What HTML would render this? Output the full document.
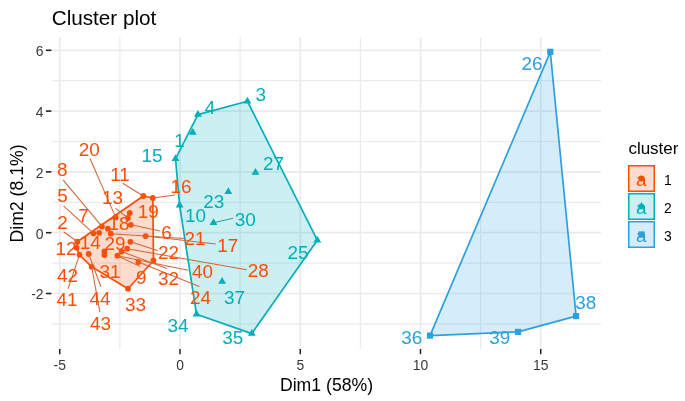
<!DOCTYPE html>
<html><head><meta charset="utf-8"><title>Cluster plot</title>
<style>
html,body{margin:0;padding:0;background:#fff;}
body{width:685px;height:401px;overflow:hidden;}
svg{display:block;filter:blur(0.35px);}
text{font-family:"Liberation Sans",sans-serif;}
</style></head>
<body>
<svg width="685" height="401" viewBox="0 0 685 401">
<rect width="685" height="401" fill="#fff"/>
<line x1="119.88" y1="37.6" x2="119.88" y2="349.0" stroke="#EBEBEB" stroke-width="1.2"/>
<line x1="240.12" y1="37.6" x2="240.12" y2="349.0" stroke="#EBEBEB" stroke-width="1.2"/>
<line x1="360.38" y1="37.6" x2="360.38" y2="349.0" stroke="#EBEBEB" stroke-width="1.2"/>
<line x1="480.62" y1="37.6" x2="480.62" y2="349.0" stroke="#EBEBEB" stroke-width="1.2"/>
<line x1="52.0" y1="323.90" x2="601.0" y2="323.90" stroke="#EBEBEB" stroke-width="1.2"/>
<line x1="52.0" y1="263.10" x2="601.0" y2="263.10" stroke="#EBEBEB" stroke-width="1.2"/>
<line x1="52.0" y1="202.30" x2="601.0" y2="202.30" stroke="#EBEBEB" stroke-width="1.2"/>
<line x1="52.0" y1="141.50" x2="601.0" y2="141.50" stroke="#EBEBEB" stroke-width="1.2"/>
<line x1="52.0" y1="80.70" x2="601.0" y2="80.70" stroke="#EBEBEB" stroke-width="1.2"/>
<line x1="59.75" y1="37.6" x2="59.75" y2="349.0" stroke="#EBEBEB" stroke-width="1.7"/>
<line x1="180.00" y1="37.6" x2="180.00" y2="349.0" stroke="#EBEBEB" stroke-width="1.7"/>
<line x1="300.25" y1="37.6" x2="300.25" y2="349.0" stroke="#EBEBEB" stroke-width="1.7"/>
<line x1="420.50" y1="37.6" x2="420.50" y2="349.0" stroke="#EBEBEB" stroke-width="1.7"/>
<line x1="540.75" y1="37.6" x2="540.75" y2="349.0" stroke="#EBEBEB" stroke-width="1.7"/>
<line x1="52.0" y1="293.50" x2="601.0" y2="293.50" stroke="#EBEBEB" stroke-width="1.7"/>
<line x1="52.0" y1="232.70" x2="601.0" y2="232.70" stroke="#EBEBEB" stroke-width="1.7"/>
<line x1="52.0" y1="171.90" x2="601.0" y2="171.90" stroke="#EBEBEB" stroke-width="1.7"/>
<line x1="52.0" y1="111.10" x2="601.0" y2="111.10" stroke="#EBEBEB" stroke-width="1.7"/>
<line x1="52.0" y1="50.30" x2="601.0" y2="50.30" stroke="#EBEBEB" stroke-width="1.7"/>
<circle cx="143.3" cy="196.0" r="2.9" fill="#FC4E07"/>
<circle cx="152.8" cy="198.0" r="2.9" fill="#FC4E07"/>
<circle cx="115.7" cy="217.4" r="2.9" fill="#FC4E07"/>
<circle cx="129.7" cy="213.0" r="2.9" fill="#FC4E07"/>
<circle cx="128.0" cy="218.0" r="2.9" fill="#FC4E07"/>
<circle cx="130.9" cy="224.8" r="2.9" fill="#FC4E07"/>
<circle cx="101.9" cy="226.4" r="2.9" fill="#FC4E07"/>
<circle cx="107.9" cy="228.7" r="2.9" fill="#FC4E07"/>
<circle cx="110.8" cy="233.7" r="2.9" fill="#FC4E07"/>
<circle cx="93.4" cy="233.3" r="2.9" fill="#FC4E07"/>
<circle cx="99.1" cy="232.8" r="2.9" fill="#FC4E07"/>
<circle cx="77.3" cy="241.7" r="2.9" fill="#FC4E07"/>
<circle cx="76.6" cy="247.8" r="2.9" fill="#FC4E07"/>
<circle cx="79.5" cy="254.8" r="2.9" fill="#FC4E07"/>
<circle cx="88.7" cy="254.0" r="2.9" fill="#FC4E07"/>
<circle cx="104.4" cy="251.4" r="2.9" fill="#FC4E07"/>
<circle cx="104.4" cy="255.0" r="2.9" fill="#FC4E07"/>
<circle cx="145.6" cy="236.1" r="2.9" fill="#FC4E07"/>
<circle cx="130.4" cy="241.8" r="2.9" fill="#FC4E07"/>
<circle cx="127.1" cy="248.7" r="2.9" fill="#FC4E07"/>
<circle cx="121.6" cy="251.6" r="2.9" fill="#FC4E07"/>
<circle cx="117.4" cy="255.7" r="2.9" fill="#FC4E07"/>
<circle cx="138.3" cy="262.0" r="2.9" fill="#FC4E07"/>
<circle cx="153.5" cy="260.5" r="2.9" fill="#FC4E07"/>
<circle cx="128.0" cy="288.7" r="2.9" fill="#FC4E07"/>
<circle cx="91.7" cy="266.8" r="2.9" fill="#FC4E07"/>
<polygon points="247.40,96.69 251.31,103.46 243.49,103.46" fill="#00AFBB"/>
<polygon points="197.90,110.09 201.81,116.86 193.99,116.86" fill="#00AFBB"/>
<polygon points="192.80,127.89 196.71,134.66 188.89,134.66" fill="#00AFBB"/>
<polygon points="175.50,154.29 179.41,161.06 171.59,161.06" fill="#00AFBB"/>
<polygon points="255.50,168.09 259.41,174.86 251.59,174.86" fill="#00AFBB"/>
<polygon points="228.30,187.29 232.21,194.06 224.39,194.06" fill="#00AFBB"/>
<polygon points="179.60,200.79 183.51,207.56 175.69,207.56" fill="#00AFBB"/>
<polygon points="213.50,218.29 217.41,225.06 209.59,225.06" fill="#00AFBB"/>
<polygon points="222.10,276.89 226.01,283.66 218.19,283.66" fill="#00AFBB"/>
<polygon points="196.50,309.69 200.41,316.46 192.59,316.46" fill="#00AFBB"/>
<polygon points="251.80,329.09 255.71,335.86 247.89,335.86" fill="#00AFBB"/>
<polygon points="317.30,235.69 321.21,242.46 313.39,242.46" fill="#00AFBB"/>
<rect x="547.20" y="48.70" width="6.20" height="6.20" fill="#2E9FDF"/>
<rect x="426.90" y="332.50" width="6.20" height="6.20" fill="#2E9FDF"/>
<rect x="514.90" y="328.80" width="6.20" height="6.20" fill="#2E9FDF"/>
<rect x="573.00" y="313.00" width="6.20" height="6.20" fill="#2E9FDF"/>
<polygon points="143.3,196.0 152.8,198.0 153.5,260.5 128.0,288.7 91.7,266.8 79.5,254.8 76.6,247.8 77.3,241.7" fill="#FC4E07" fill-opacity="0.2" stroke="#FC4E07" stroke-width="1.7" stroke-linejoin="round"/>
<polygon points="175.5,158.8 197.9,114.6 247.4,101.2 317.3,240.2 251.8,333.6 196.5,314.2 179.6,205.3" fill="#00AFBB" fill-opacity="0.2" stroke="#00AFBB" stroke-width="1.7" stroke-linejoin="round"/>
<polygon points="430.0,335.6 550.3,51.8 576.1,316.1 518.0,331.9" fill="#2E9FDF" fill-opacity="0.2" stroke="#2E9FDF" stroke-width="1.7" stroke-linejoin="round"/>
<line x1="115.7" y1="217.4" x2="90.0" y2="158.5" stroke="#D0663A" stroke-width="1.05"/>
<line x1="128.0" y1="218.0" x2="115.5" y2="208.3" stroke="#D0663A" stroke-width="1.05"/>
<line x1="101.9" y1="226.4" x2="63.0" y2="179.8" stroke="#D0663A" stroke-width="1.05"/>
<line x1="93.4" y1="233.3" x2="63.6" y2="205.8" stroke="#D0663A" stroke-width="1.05"/>
<line x1="77.3" y1="241.7" x2="63.6" y2="231.8" stroke="#D0663A" stroke-width="1.05"/>
<line x1="143.3" y1="196.0" x2="122.7" y2="183.3" stroke="#D0663A" stroke-width="1.05"/>
<line x1="152.8" y1="198.0" x2="175.0" y2="194.9" stroke="#D0663A" stroke-width="1.05"/>
<line x1="130.9" y1="224.8" x2="160.3" y2="231.1" stroke="#D0663A" stroke-width="1.05"/>
<line x1="110.8" y1="233.7" x2="184.5" y2="238.6" stroke="#D0663A" stroke-width="1.05"/>
<line x1="145.6" y1="236.1" x2="215.8" y2="244.0" stroke="#D0663A" stroke-width="1.05"/>
<line x1="130.4" y1="241.8" x2="157.5" y2="250.6" stroke="#D0663A" stroke-width="1.05"/>
<line x1="127.1" y1="248.7" x2="246.7" y2="269.8" stroke="#D0663A" stroke-width="1.05"/>
<line x1="117.4" y1="255.7" x2="188.2" y2="270.2" stroke="#D0663A" stroke-width="1.05"/>
<line x1="121.6" y1="251.6" x2="166.8" y2="268.5" stroke="#D0663A" stroke-width="1.05"/>
<line x1="138.3" y1="262.0" x2="199.3" y2="286.5" stroke="#D0663A" stroke-width="1.05"/>
<line x1="117.4" y1="255.7" x2="140.4" y2="266.6" stroke="#D0663A" stroke-width="1.05"/>
<line x1="79.5" y1="254.8" x2="68.0" y2="288.8" stroke="#D0663A" stroke-width="1.05"/>
<line x1="88.7" y1="254.0" x2="100.9" y2="286.8" stroke="#D0663A" stroke-width="1.05"/>
<line x1="91.7" y1="266.8" x2="99.9" y2="312.2" stroke="#D0663A" stroke-width="1.05"/>
<line x1="213.5" y1="222.8" x2="232.9" y2="218.3" stroke="#2AA3AC" stroke-width="1.05"/>
<g fill="#FC4E07" font-size="18.9" text-anchor="middle">
<text x="89.2" y="155.90">20</text>
<text x="62.3" y="176.40">8</text>
<text x="120.0" y="181.00">11</text>
<text x="62.4" y="202.30">5</text>
<text x="112.5" y="204.30">13</text>
<text x="181.0" y="193.00">16</text>
<text x="148.3" y="217.50">19</text>
<text x="83.6" y="222.30">7</text>
<text x="62.4" y="228.90">2</text>
<text x="119.0" y="230.30">18</text>
<text x="166.5" y="238.60">6</text>
<text x="195.0" y="245.10">21</text>
<text x="227.8" y="252.00">17</text>
<text x="90.2" y="248.60">14</text>
<text x="65.9" y="254.70">12</text>
<text x="114.9" y="249.60">29</text>
<text x="168.5" y="259.10">22</text>
<text x="202.5" y="277.80">40</text>
<text x="258.3" y="276.90">28</text>
<text x="110.1" y="278.10">31</text>
<text x="141.2" y="283.60">9</text>
<text x="168.5" y="285.30">32</text>
<text x="200.5" y="303.60">24</text>
<text x="135.5" y="310.70">33</text>
<text x="67.4" y="281.50">42</text>
<text x="66.9" y="306.10">41</text>
<text x="100.0" y="305.10">44</text>
<text x="100.5" y="330.30">43</text>
</g>
<g fill="#00AFBB" font-size="18.9" text-anchor="middle">
<text x="260.8" y="100.50">3</text>
<text x="210.1" y="113.80">4</text>
<text x="179.5" y="147.20">1</text>
<text x="152.0" y="162.30">15</text>
<text x="273.6" y="169.80">27</text>
<text x="213.7" y="208.00">23</text>
<text x="195.6" y="222.00">10</text>
<text x="245.3" y="225.50">30</text>
<text x="298.0" y="258.60">25</text>
<text x="234.5" y="303.60">37</text>
<text x="178.0" y="332.30">34</text>
<text x="232.8" y="343.60">35</text>
</g>
<g fill="#2E9FDF" font-size="18.9" text-anchor="middle">
<text x="532.0" y="70.20">26</text>
<text x="411.8" y="344.00">36</text>
<text x="499.8" y="344.30">39</text>
<text x="585.8" y="308.90">38</text>
</g>
<line x1="59.75" y1="349.0" x2="59.75" y2="354.2" stroke="#222" stroke-width="1.5"/>
<text x="59.75" y="369.8" text-anchor="middle" font-size="13.9" fill="#383838">-5</text>
<line x1="180.00" y1="349.0" x2="180.00" y2="354.2" stroke="#222" stroke-width="1.5"/>
<text x="180.00" y="369.8" text-anchor="middle" font-size="13.9" fill="#383838">0</text>
<line x1="300.25" y1="349.0" x2="300.25" y2="354.2" stroke="#222" stroke-width="1.5"/>
<text x="300.25" y="369.8" text-anchor="middle" font-size="13.9" fill="#383838">5</text>
<line x1="420.50" y1="349.0" x2="420.50" y2="354.2" stroke="#222" stroke-width="1.5"/>
<text x="420.50" y="369.8" text-anchor="middle" font-size="13.9" fill="#383838">10</text>
<line x1="540.75" y1="349.0" x2="540.75" y2="354.2" stroke="#222" stroke-width="1.5"/>
<text x="540.75" y="369.8" text-anchor="middle" font-size="13.9" fill="#383838">15</text>
<line x1="45.9" y1="293.50" x2="51.4" y2="293.50" stroke="#222" stroke-width="1.6"/>
<text x="43.6" y="299.30" text-anchor="end" font-size="13.9" fill="#383838">-2</text>
<line x1="45.9" y1="232.70" x2="51.4" y2="232.70" stroke="#222" stroke-width="1.6"/>
<text x="43.6" y="238.50" text-anchor="end" font-size="13.9" fill="#383838">0</text>
<line x1="45.9" y1="171.90" x2="51.4" y2="171.90" stroke="#222" stroke-width="1.6"/>
<text x="43.6" y="177.70" text-anchor="end" font-size="13.9" fill="#383838">2</text>
<line x1="45.9" y1="111.10" x2="51.4" y2="111.10" stroke="#222" stroke-width="1.6"/>
<text x="43.6" y="116.90" text-anchor="end" font-size="13.9" fill="#383838">4</text>
<line x1="45.9" y1="50.30" x2="51.4" y2="50.30" stroke="#222" stroke-width="1.6"/>
<text x="43.6" y="56.10" text-anchor="end" font-size="13.9" fill="#383838">6</text>
<text x="326.5" y="390.6" text-anchor="middle" font-size="17.65" fill="#000">Dim1 (58%)</text>
<text transform="translate(22.9,193.5) rotate(-90)" text-anchor="middle" font-size="17.65" fill="#000">Dim2 (8.1%)</text>
<text x="51.7" y="25.0" font-size="20.7" fill="#000">Cluster plot</text>
<text x="628.4" y="154.4" font-size="17.0" fill="#000">cluster</text>
<rect x="628.75" y="165.75" width="25.5" height="25.5" fill="#FEDCCD" stroke="#FC4E07" stroke-width="1.5"/>
<text x="641.30" y="186.10" text-anchor="middle" font-size="18.9" fill="#FC4E07">a</text>
<circle cx="641.5" cy="178.5" r="2.9" fill="#FC4E07"/>
<text x="664.0" y="184.90" font-size="13.9" fill="#000">1</text>
<rect x="628.75" y="193.75" width="25.5" height="25.5" fill="#CCEFF1" stroke="#00AFBB" stroke-width="1.5"/>
<text x="641.30" y="214.10" text-anchor="middle" font-size="18.9" fill="#00AFBB">a</text>
<polygon points="641.50,201.99 645.41,208.76 637.59,208.76" fill="#00AFBB"/>
<text x="664.0" y="212.90" font-size="13.9" fill="#000">2</text>
<rect x="628.75" y="221.75" width="25.5" height="25.5" fill="#D5ECF9" stroke="#2E9FDF" stroke-width="1.5"/>
<text x="641.30" y="242.10" text-anchor="middle" font-size="18.9" fill="#2E9FDF">a</text>
<rect x="638.40" y="231.40" width="6.20" height="6.20" fill="#2E9FDF"/>
<text x="664.0" y="240.90" font-size="13.9" fill="#000">3</text>
</svg>
</body></html>
